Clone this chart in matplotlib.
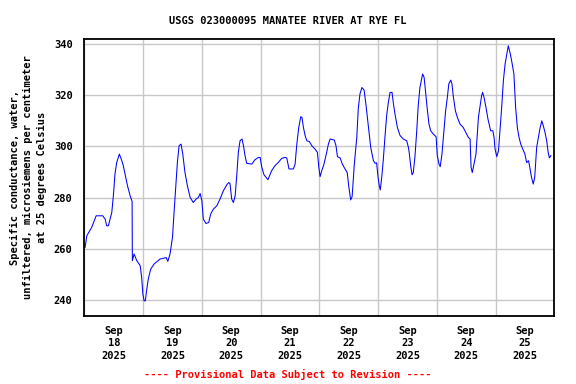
import matplotlib
matplotlib.use("Agg")
import matplotlib.pyplot as plt
import matplotlib.dates as mdates
import pandas as pd

# hours since 2025-09-18 00:00 and specific conductance (uS/cm)
hours = [
    0.3, 1.0, 3.0, 4.8, 7.5, 8.5, 9.1, 9.8, 11.2, 11.9, 12.5, 13.2, 14.3, 15.3,
    15.9, 16.6, 17.6, 18.7, 19.5, 19.6, 20.3, 21.4, 22.8, 23.4, 23.9, 24.4, 24.9,
    25.5, 26.1, 27.1, 28.5, 30.9, 33.4, 34.1, 35.0, 36.0, 36.6, 37.3, 38.0, 38.7,
    39.5, 40.2, 41.1, 42.1, 43.2, 44.5, 45.6, 46.6, 47.3, 48.0, 48.6, 49.7, 50.8,
    51.6, 52.7, 54.1, 55.4, 56.8, 58.2, 59.0, 59.5, 60.2, 60.9, 61.6, 62.3, 62.9,
    63.6, 64.4, 65.0, 65.6, 66.3, 68.4, 69.7, 71.1, 71.8, 72.5, 73.4, 75.0, 76.5,
    77.9, 79.3, 80.6, 82.0, 82.7, 83.6, 85.4, 86.1, 86.8, 87.6, 88.4, 88.9, 89.5,
    90.2, 90.9, 91.9, 92.9, 94.2, 95.2, 95.8, 96.3, 97.0, 97.9, 99.0, 99.7, 100.4,
    102.1, 102.8, 103.4, 104.5, 105.4, 106.5, 107.4, 108.0, 108.8, 109.4, 110.3,
    111.3, 111.9, 112.6, 113.4, 114.3, 115.1, 116.0, 117.0, 118.1, 118.8, 119.4,
    120.0, 120.5, 120.9, 121.5, 122.1, 122.8, 123.5, 124.2, 124.9, 125.7, 126.2,
    126.9, 127.9, 129.0, 130.3, 131.7, 132.4, 132.8, 133.4, 133.9, 134.4, 135.1,
    135.8, 136.4, 137.1, 137.8, 138.2, 138.8, 139.3, 140.1, 140.8, 141.5, 142.6,
    143.7, 144.2, 144.9, 145.4, 146.1, 146.9, 147.6, 148.3, 148.9, 149.7, 150.2,
    150.7, 151.6, 152.4, 153.5, 154.8, 155.8, 156.9, 157.6, 158.0, 158.5, 159.2,
    160.0, 161.0, 161.6, 162.3, 162.7, 163.3, 164.1, 164.9, 165.5, 166.0, 166.9,
    167.4, 167.8, 168.5, 169.2, 169.8, 170.5, 171.2, 171.9, 172.6, 173.2, 173.9,
    174.7, 175.5, 176.2, 176.9, 177.6, 178.3, 179.1, 180.0, 180.7, 181.5, 182.0,
    182.7, 183.4, 184.0, 184.8, 185.5, 186.1, 186.9, 187.5, 188.2, 188.9, 189.5,
    190.0, 190.6,
]
conductance = [
    260.6, 265.1, 268.4, 272.9, 272.9, 271.6, 269.0, 269.0, 274.2, 281.4, 289.2,
    293.7, 297.0, 294.4, 292.5, 289.2, 284.7, 280.7, 278.5, 255.4, 258.0, 255.4,
    253.4, 248.8, 242.3, 239.7, 239.7, 244.3, 248.2, 252.1, 254.1, 256.0, 256.6,
    255.1, 258.0, 264.5, 273.6, 283.4, 293.8, 300.3, 300.9, 297.0, 289.8, 284.6,
    280.1, 278.1, 279.4, 280.1, 281.6, 278.8, 271.6, 269.9, 270.3, 273.6, 275.5,
    276.8, 279.4, 282.7, 285.0, 285.9, 285.5, 279.4, 278.1, 280.7, 289.2, 297.7,
    302.2, 302.9, 300.3, 296.6, 293.4, 293.1, 294.8, 295.7, 295.7, 291.8, 288.9,
    287.0, 290.5, 292.5, 293.8, 295.3, 295.7, 295.5, 291.2, 291.2, 293.1, 300.9,
    307.4, 311.6, 311.3, 307.4, 304.2, 302.2, 301.9, 300.3, 299.0, 297.7, 291.8,
    288.2, 290.5, 293.1, 297.7, 300.9, 302.9, 302.5, 300.3, 296.0, 295.5, 293.1,
    291.2, 289.8, 284.6, 279.1, 280.4, 293.1, 303.5, 314.6, 320.5, 323.0, 322.0,
    315.9, 308.1, 299.6, 294.4, 293.4, 293.6, 287.9, 284.6, 283.0, 287.9, 294.4,
    303.5, 312.0, 317.2, 321.1, 321.1, 317.2, 312.7, 307.4, 304.2, 302.9, 302.2,
    299.6, 297.0, 291.8, 288.9, 289.8, 296.4, 306.1, 315.9, 323.0, 326.3, 328.3,
    327.0, 322.4, 314.6, 308.7, 306.1, 304.8, 303.8, 296.4, 293.1, 292.1, 297.0,
    306.1, 313.9, 319.1, 324.4, 325.9, 324.4, 319.8, 313.9, 311.3, 308.7, 307.4,
    305.5, 303.5, 302.9, 291.8, 289.8, 293.1, 297.0, 311.3, 315.2, 319.8, 321.1,
    319.1, 315.2, 310.7, 308.1, 306.1, 306.1, 303.5, 299.0, 296.0, 298.3, 306.1,
    315.2, 325.7, 332.2, 336.1, 339.3, 336.7, 332.8, 328.3, 315.2, 307.4, 303.5,
    300.9, 299.0, 297.0, 293.7, 294.4, 291.8, 287.9, 285.3, 287.9, 299.6, 303.5,
    306.8, 310.0, 308.1, 305.5, 302.2, 297.7, 295.5, 296.4,
]
y_ticks = [240, 260, 280, 300, 320, 340]

start = pd.Timestamp("2025-09-18 00:00")
times = start + pd.to_timedelta(hours, unit="h")

mono = {"family": "DejaVu Sans Mono", "weight": "bold", "size": 7.5}

fig = plt.figure(figsize=(5.76, 3.84), dpi=100)
ax = fig.add_axes([0.1465, 0.177, 0.8158, 0.7214])

ax.plot(times, conductance, color="#0000ff", linewidth=0.75)

ax.set_xlim(start, start + pd.Timedelta(days=8))
ax.set_ylim(233.75, 341.95)
ax.set_yticks(y_ticks)
ax.set_yticklabels([str(v) for v in y_ticks], fontdict=mono)

# gridlines at midnight, labels at noon
ax.xaxis.set_major_locator(mdates.DayLocator())
ax.xaxis.set_major_formatter(plt.NullFormatter())
ax.xaxis.set_minor_locator(mdates.HourLocator(byhour=[12]))
ax.xaxis.set_minor_formatter(mdates.DateFormatter("Sep\n%d\n%Y"))
ax.tick_params(axis="x", which="both", length=0, pad=7)
ax.tick_params(axis="y", length=0, pad=8.5)
for lab in ax.xaxis.get_minorticklabels():
    lab.set_fontfamily("DejaVu Sans Mono")
    lab.set_fontweight("bold")
    lab.set_fontsize(7.5)
    lab.set_linespacing(1.32)
    lab.set_horizontalalignment("center")
    lab.set_multialignment("center")

ax.grid(True, which="major", color="#c8c8c8", linewidth=1)
ax.set_axisbelow(True)
for s in ax.spines.values():
    s.set_linewidth(1.3)
    s.set_color("black")

ax.set_ylabel("Specific conductance, water,\nunfiltered, microsiemens per centimeter\nat 25 degrees Celsius",
              fontdict=mono, linespacing=1.45, labelpad=5)

fig.text(0.5, 0.946, "USGS 023000095 MANATEE RIVER AT RYE FL", ha="center", va="center", **mono)
fig.text(0.5, 0.024, "---- Provisional Data Subject to Revision ----", ha="center",
         va="center", color="red", **mono)

fig.savefig("out.png", dpi=100)
